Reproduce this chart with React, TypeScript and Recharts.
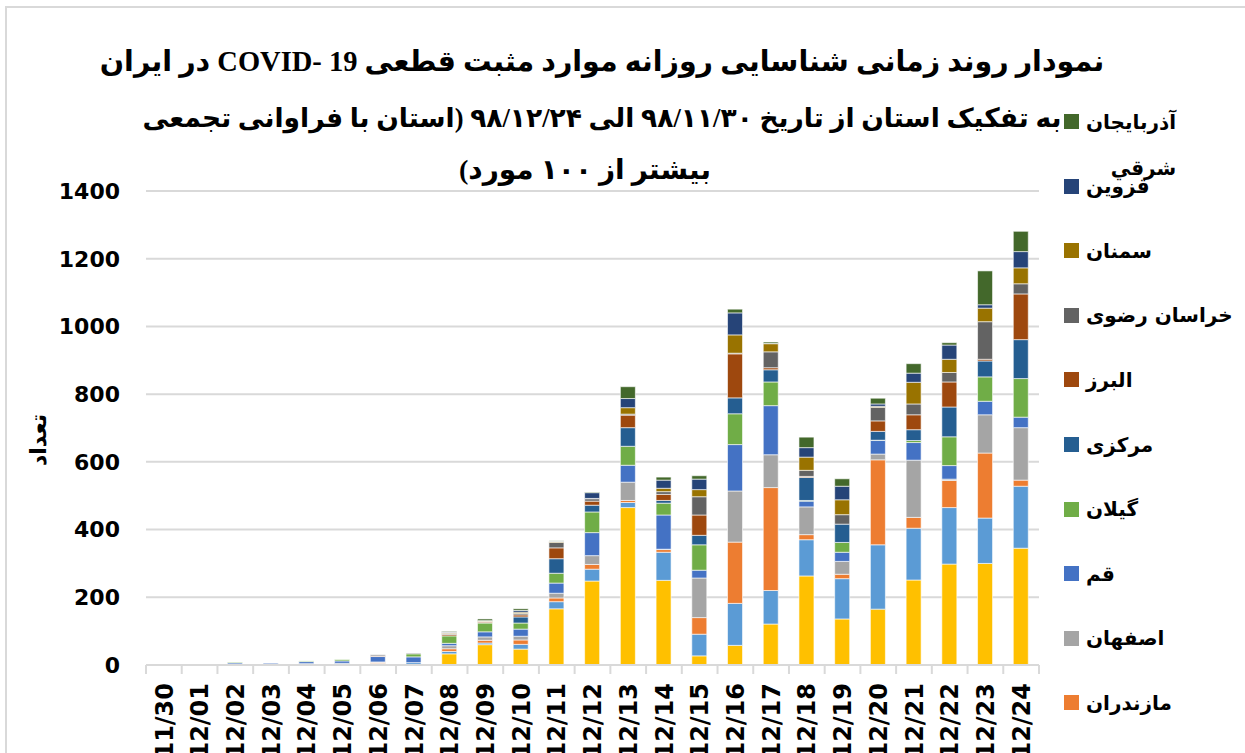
import { Bar, BarChart, CartesianGrid, Legend, XAxis, YAxis } from "recharts";

// Daily confirmed COVID-19 cases per province, stacked (bottom series first).
const dates = [
  "11/30", "12/01", "12/02", "12/03", "12/04", "12/05", "12/06", "12/07", "12/08",
  "12/09", "12/10", "12/11", "12/12", "12/13", "12/14", "12/15", "12/16", "12/17",
  "12/18", "12/19", "12/20", "12/21", "12/22", "12/23", "12/24",
];

const tehran = [0, 0, 0, 0, 0, 0, 4, 1, 33, 60, 47, 166, 248, 465, 250, 27, 58, 121, 263, 136, 165, 251, 298, 300, 345];
const golestan = [0, 0, 0, 0, 2, 3, 1, 6, 7, 5, 14, 21, 35, 15, 83, 64, 124, 99, 107, 119, 190, 153, 167, 134, 183];
const mazandaran = [0, 0, 0, 0, 0, 0, 3, 0, 8, 8, 13, 11, 14, 6, 8, 49, 181, 304, 15, 13, 251, 32, 80, 192, 18];
const isfahan = [0, 0, 0, 0, 2, 2, 1, 0, 9, 10, 11, 14, 26, 54, 1, 117, 151, 97, 82, 38, 17, 169, 4, 113, 155];
const qom = [0, 0, 6, 5, 6, 7, 16, 17, 7, 15, 21, 30, 68, 50, 101, 23, 137, 145, 17, 27, 40, 52, 40, 40, 31];
const gilan = [0, 0, 2, 0, 2, 4, 0, 9, 22, 26, 18, 29, 61, 56, 35, 75, 91, 70, 2, 29, 1, 6, 85, 72, 114];
const markazi = [0, 0, 0, 0, 0, 0, 0, 0, 0, 0, 18, 43, 20, 55, 8, 28, 47, 36, 68, 54, 26, 32, 88, 47, 115];
const alborz = [0, 0, 0, 0, 0, 0, 2, 0, 4, 3, 6, 32, 12, 37, 18, 60, 130, 6, 3, 0, 31, 44, 74, 5, 135];
const khorasan = [0, 0, 0, 0, 0, 0, 3, 2, 3, 1, 4, 16, 7, 3, 8, 54, 2, 47, 18, 28, 40, 32, 28, 111, 30];
const semnan = [0, 0, 0, 0, 0, 0, 0, 0, 3, 2, 4, 3, 1, 19, 10, 21, 54, 24, 39, 44, 3, 64, 39, 40, 47];
const qazvin = [0, 0, 0, 0, 0, 0, 0, 0, 2, 1, 5, 1, 17, 27, 24, 31, 65, 1, 28, 40, 7, 27, 42, 10, 48];
const azarbaijan = [0, 0, 0, 0, 0, 0, 0, 0, 2, 5, 5, 1, 2, 35, 9, 10, 11, 4, 31, 22, 17, 28, 7, 100, 60];

const yTicks = [0, 200, 400, 600, 800, 1000, 1200, 1400];

const series = [
  { key: "tehran", name: "تهران", color: "#FFC000", values: tehran },
  { key: "golestan", name: "گلستان", color: "#5B9BD5", values: golestan },
  { key: "mazandaran", name: "مازندران", color: "#ED7D31", values: mazandaran },
  { key: "isfahan", name: "اصفهان", color: "#A5A5A5", values: isfahan },
  { key: "qom", name: "قم", color: "#4472C4", values: qom },
  { key: "gilan", name: "گیلان", color: "#70AD47", values: gilan },
  { key: "markazi", name: "مرکزی", color: "#255E91", values: markazi },
  { key: "alborz", name: "البرز", color: "#9E480E", values: alborz },
  { key: "khorasan", name: "خراسان رضوی", color: "#636363", values: khorasan },
  { key: "semnan", name: "سمنان", color: "#997300", values: semnan },
  { key: "qazvin", name: "قزوین", color: "#264478", values: qazvin },
  { key: "azarbaijan", name: "آذربایجان شرقي", color: "#43682B", values: azarbaijan },
];

const rows = dates.map((date, i) => {
  const row: Record<string, string | number> = { date };
  series.forEach((s) => (row[s.key] = s.values[i]));
  return row;
});

const W = 1245;
const H = 753;
const PLOT_LEFT = 146;
const PLOT_RIGHT = 1039;
const HALF_BAND = (PLOT_RIGHT - PLOT_LEFT) / dates.length / 2;
const LABEL_FONT = "'DejaVu Sans', sans-serif";

function DateTick(props: any) {
  const { x, y, payload, index } = props;
  return (
    <g>
      <line x1={x - HALF_BAND} x2={x - HALF_BAND} y1={y} y2={y + 9} stroke="#D9D9D9" strokeWidth={2} />
      {index === dates.length - 1 && (
        <line x1={x + HALF_BAND} x2={x + HALF_BAND} y1={y} y2={y + 9} stroke="#D9D9D9" strokeWidth={2} />
      )}
      <text
        transform={`translate(${x},${y + 18}) rotate(-90)`}
        textAnchor="end"
        dy="0.36em"
        fontFamily={LABEL_FONT}
        fontWeight="bold"
        fontSize={24}
        fill="#000"
      >
        {payload.value}
      </text>
    </g>
  );
}

function ProvinceLegend() {
  const items = [...series].reverse();
  return (
    <div style={{ position: "relative", width: 185, height: 800, fontFamily: LABEL_FONT }}>
      {items.map((s, i) => {
        const cy = 13.5 + i * 64.6;
        const lines = s.name === "آذربایجان شرقي" ? ["آذربایجان", "شرقي"] : [s.name];
        return (
          <div key={s.key}>
            <div
              style={{ position: "absolute", left: 4, top: cy - 7.5, width: 15, height: 15, background: s.color }}
            />
            <div
              style={{
                position: "absolute",
                left: 26,
                top: cy - 15,
                direction: "rtl",
                textAlign: lines.length > 1 ? "right" : "left",
                fontWeight: "bold",
                fontSize: 20,
                lineHeight: "46px",
                marginTop: -8,
                whiteSpace: "nowrap",
                color: "#000",
              }}
            >
              {lines.map((l) => (
                <div key={l}>{l}</div>
              ))}
            </div>
          </div>
        );
      })}
    </div>
  );
}

const titleLine: React.CSSProperties = {
  position: "absolute",
  left: 0,
  width: 1204,
  textAlign: "center",
  direction: "rtl",
  fontFamily: "'Liberation Serif', 'DejaVu Sans', serif",
  fontWeight: "bold",
  lineHeight: "40px",
  whiteSpace: "nowrap",
  color: "#000",
};

export default function App() {
  return (
    <div style={{ position: "absolute", left: 0, top: 0, width: W, height: H, overflow: "hidden", background: "#fff" }}>
      <div
        style={{
          position: "absolute",
          left: 5,
          top: 6,
          width: W,
          height: H,
          borderLeft: "2px solid #D9D9D9",
          borderTop: "2px solid #D9D9D9",
        }}
      />
      <BarChart
        width={W}
        height={H}
        data={rows}
        margin={{ top: 191, right: W - PLOT_RIGHT, bottom: 0, left: 0 }}
        barSize={15}
      >
        <CartesianGrid vertical={false} stroke="#D9D9D9" strokeWidth={2} />
        <XAxis
          dataKey="date"
          height={88}
          interval={0}
          tickLine={false}
          tickSize={0}
          tickMargin={0}
          axisLine={{ stroke: "#D9D9D9", strokeWidth: 2 }}
          tick={<DateTick />}
        />
        <YAxis
          width={PLOT_LEFT}
          domain={[0, 1400]}
          ticks={yTicks}
          axisLine={false}
          tickLine={false}
          tickSize={0}
          tickMargin={26}
          tick={{ fill: "#000", fontSize: 22, fontWeight: "bold", fontFamily: LABEL_FONT }}
          label={{
            content: () => (
              <text
                transform="translate(38,440) rotate(-90)"
                textAnchor="middle"
                dy="0.35em"
                fontFamily={LABEL_FONT}
                fontWeight="bold"
                fontSize={22}
                fill="#000"
              >
                تعداد
              </text>
            ),
          }}
        />
        {series.map((s) => (
          <Bar
            key={s.key}
            dataKey={s.key}
            name={s.name}
            stackId="cases"
            fill={s.color}
            stroke="#ffffff"
            strokeWidth={0.6}
            isAnimationActive={false}
          />
        ))}
        <Legend
          layout="vertical"
          align="center"
          verticalAlign="middle"
          wrapperStyle={{ left: 1060, top: 108, width: 185 }}
          content={() => <ProvinceLegend />}
        />
      </BarChart>
      <div style={{ ...titleLine, top: 42, fontSize: 28.5 }}>
        نمودار روند زمانی شناسایی روزانه موارد مثبت قطعی COVID- 19 در ایران
      </div>
      <div style={{ ...titleLine, top: 98, fontSize: 26.5 }}>
        به تفکیک استان از تاریخ ۹۸/۱۱/۳۰ الی ۹۸/۱۲/۲۴ (استان با فراوانی تجمعی
      </div>
      <div style={{ ...titleLine, top: 150, fontSize: 28, width: 1170 }}>بیشتر از ۱۰۰ مورد)</div>
    </div>
  );
}
